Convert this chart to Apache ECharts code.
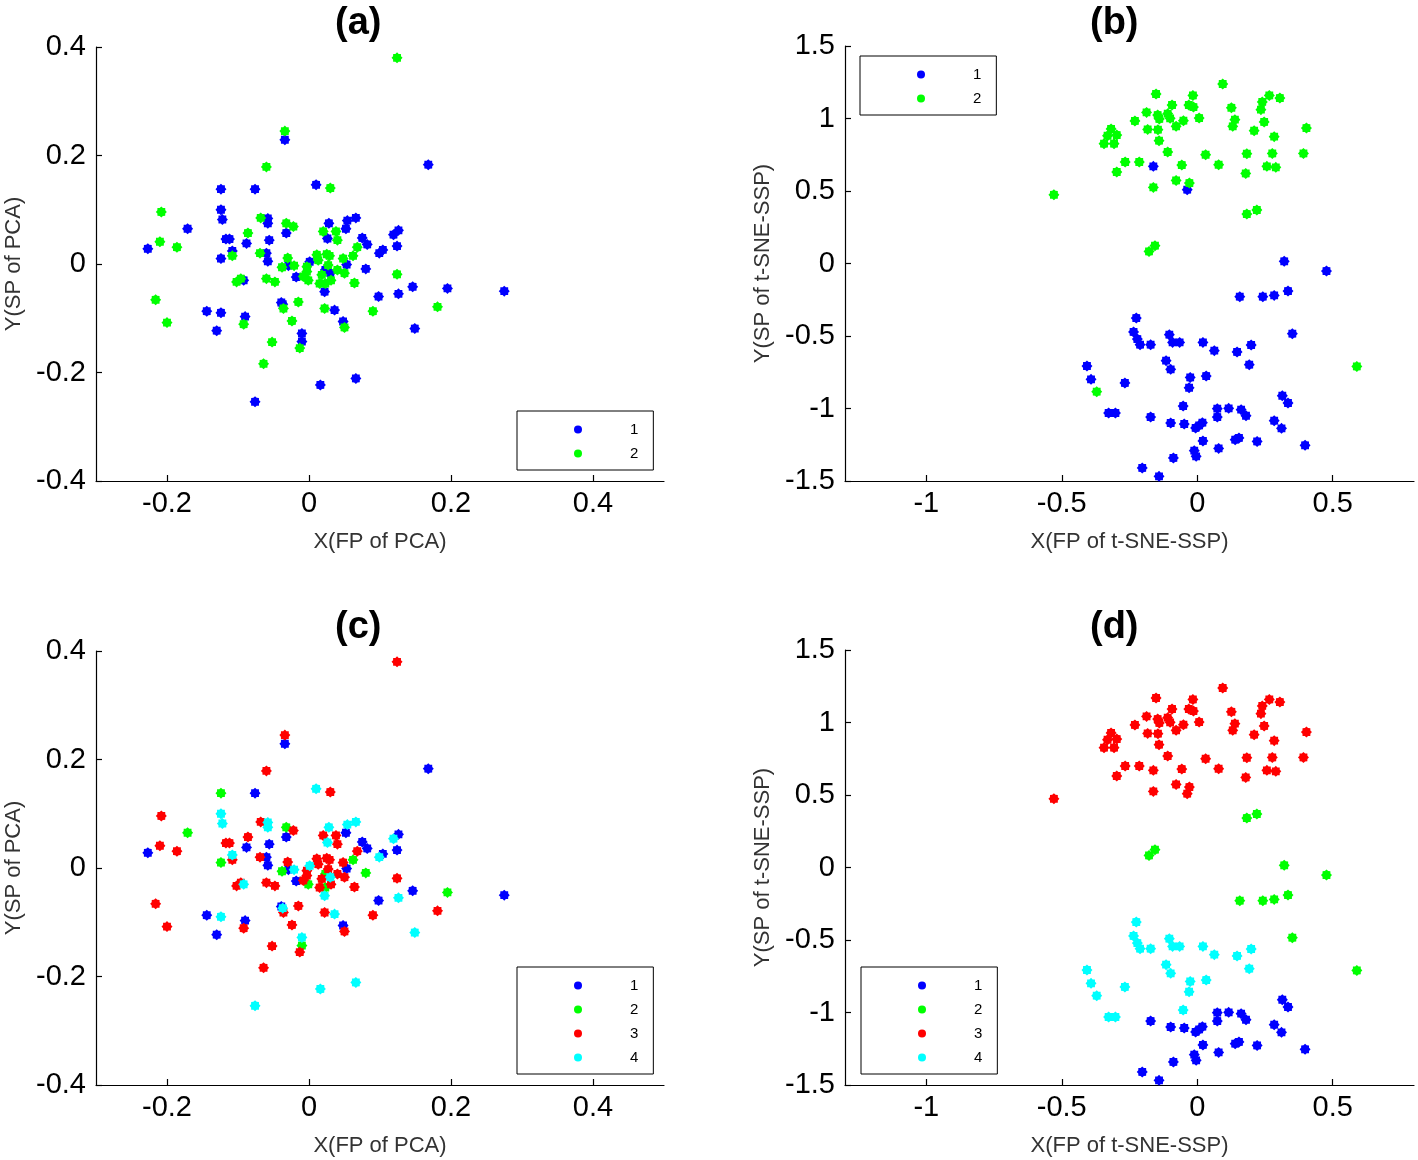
<!DOCTYPE html>
<html>
<head>
<meta charset="utf-8">
<script src="https://cdn.jsdelivr.net/npm/echarts@6/dist/echarts.min.js"></script>
<style>
  html, body { margin: 0; padding: 0; background: #fff; }
  #chart { width: 1418px; height: 1160px; }
</style>
</head>
<body>
<div id="chart"></div>
<script>
// PCA projection (panels a, c)
const pcaX = [
  -0.034, -0.034, -0.060, -0.124, -0.076, -0.208, -0.124, -0.122, -0.171, -0.068,
  -0.058, -0.058, -0.032, -0.022, -0.032, -0.086, -0.117, -0.112, -0.088, -0.056,
  -0.210, -0.227, -0.186, -0.108, -0.108, -0.124, -0.069, -0.060, -0.058, -0.030,
  -0.038, -0.029, -0.021, -0.018, -0.102, -0.096, -0.092, -0.060, -0.048, -0.216,
  -0.039, -0.037, -0.036, -0.015, -0.144, -0.124, -0.090, -0.092, -0.200, -0.130,
  -0.024, -0.010, -0.010, -0.013, -0.052, -0.064, -0.076, 0.168, 0.010, 0.030,
  0.028, 0.054, 0.066, 0.052, 0.020, 0.038, 0.026, 0.040, 0.075, 0.082,
  0.068, 0.119, 0.126, 0.124, 0.099, 0.104, 0.062, 0.048, 0.053, 0.080,
  0.124, 0.146, 0.126, 0.098, 0.090, 0.149, 0.064, 0.001, -0.003, 0.011,
  0.013, 0.025, 0.029, 0.027, 0.023, 0.030, 0.040, 0.050, -0.008, -0.001,
  -0.003, 0.015, 0.023, 0.031, 0.018, 0.022, 0.022, 0.036, 0.048, 0.050,
  0.124, 0.195, 0.275, 0.181, 0.066, 0.016
];
const pcaY = [
  0.245, 0.229, 0.179, 0.138, 0.138, 0.096, 0.100, 0.082, 0.065, 0.085,
  0.084, 0.075, 0.075, 0.069, 0.057, 0.057, 0.046, 0.046, 0.038, 0.044,
  0.041, 0.028, 0.031, 0.024, 0.015, 0.010, 0.020, 0.020, 0.005, 0.011,
  -0.006, -0.003, -0.003, -0.024, -0.033, -0.027, -0.030, -0.027, -0.033, -0.066,
  -0.071, -0.074, -0.082, -0.070, -0.087, -0.090, -0.097, -0.111, -0.108, -0.123,
  -0.105, -0.128, -0.143, -0.155, -0.144, -0.184, -0.254, 0.183, 0.146, 0.140,
  0.075, 0.080, 0.085, 0.065, 0.060, 0.060, 0.047, 0.044, 0.048, 0.036,
  0.031, 0.054, 0.062, 0.033, 0.020, 0.026, 0.015, 0.010, -0.001, -0.009,
  -0.019, -0.042, -0.055, -0.060, -0.087, -0.119, -0.035, 0.004, -0.005, 0.017,
  0.007, 0.018, 0.015, -0.002, -0.011, -0.017, -0.011, -0.017, -0.023, -0.030,
  -0.014, -0.036, -0.036, -0.030, -0.020, -0.051, -0.082, -0.085, -0.106, -0.117,
  0.380, -0.045, -0.050, -0.079, -0.211, -0.223
];
const pcaClassA = [
  2, 1, 2, 1, 1, 2, 1, 1, 1, 2,
  1, 1, 2, 2, 1, 2, 1, 1, 1, 1,
  2, 1, 2, 1, 2, 1, 2, 1, 1, 2,
  2, 1, 2, 1, 2, 2, 1, 2, 2, 2,
  1, 1, 2, 2, 1, 1, 1, 2, 2, 1,
  2, 1, 1, 2, 2, 2, 1, 1, 1, 2,
  1, 1, 1, 1, 2, 2, 1, 2, 1, 1,
  2, 1, 1, 1, 1, 1, 2, 2, 1, 1,
  2, 1, 1, 1, 2, 1, 2, 1, 2, 2,
  2, 2, 2, 2, 1, 1, 2, 2, 2, 2,
  2, 2, 2, 2, 2, 1, 2, 1, 1, 2,
  2, 1, 1, 2, 1, 1
];
const pcaClassC = [
  3, 1, 3, 2, 1, 3, 4, 4, 2, 3,
  4, 4, 2, 3, 1, 3, 3, 3, 1, 1,
  3, 1, 3, 4, 3, 2, 3, 1, 1, 3,
  2, 1, 4, 1, 3, 3, 4, 3, 3, 3,
  1, 4, 3, 3, 1, 4, 1, 3, 3, 1,
  3, 4, 2, 3, 3, 3, 4, 1, 4, 3,
  4, 4, 4, 1, 3, 3, 4, 3, 1, 1,
  3, 4, 1, 1, 4, 1, 2, 3, 1, 2,
  3, 1, 4, 1, 3, 4, 3, 4, 3, 3,
  3, 3, 3, 3, 2, 4, 3, 3, 3, 2,
  3, 3, 2, 3, 3, 4, 3, 4, 1, 3,
  3, 2, 1, 3, 4, 4
];

// t-SNE-SSP projection (panels b, d)
const tsneX = [
  0.094, -0.152, -0.016, 0.266, 0.305, -0.093, -0.031, -0.014, 0.240, 0.126,
  0.235, -0.187, -0.146, -0.109, -0.140, -0.100, -0.230, -0.051, 0.007, 0.139,
  0.131, 0.247, 0.403, 0.210, -0.078, -0.183, -0.145, -0.318, -0.297, -0.331,
  -0.344, -0.307, -0.141, 0.284, -0.109, 0.031, 0.183, 0.277, 0.392, -0.266,
  -0.214, -0.162, -0.057, 0.079, 0.257, 0.290, -0.297, 0.179, -0.078, -0.029,
  -0.037, -0.162, -0.529, 0.183, 0.220, -0.178, -0.156, 0.321, 0.477, 0.157,
  0.242, 0.284, 0.335, 0.351, 0.589, -0.371, -0.225, -0.235, -0.221, -0.211,
  -0.172, -0.103, -0.091, -0.065, 0.021, 0.063, 0.147, 0.199, 0.192, -0.115,
  -0.098, -0.407, -0.392, -0.267, -0.026, 0.033, -0.030, -0.327, -0.302, -0.052,
  -0.172, -0.098, -0.048, -0.006, 0.007, 0.019, 0.074, 0.074, 0.116, 0.162,
  0.180, 0.314, 0.335, 0.284, 0.311, 0.021, 0.079, 0.140, 0.154, 0.221,
  0.398, -0.011, -0.004, -0.088, -0.203, -0.141
];
const tsneY = [
  1.238, 1.169, 1.159, 1.159, 1.141, 1.093, 1.093, 1.079, 1.114, 1.074,
  1.061, 1.042, 1.024, 1.033, 0.997, 1.001, 0.983, 0.985, 1.003, 0.992,
  0.946, 0.976, 0.934, 0.916, 0.946, 0.925, 0.923, 0.928, 0.886, 0.881,
  0.826, 0.826, 0.847, 0.875, 0.769, 0.750, 0.757, 0.759, 0.759, 0.700,
  0.700, 0.670, 0.679, 0.681, 0.670, 0.663, 0.631, 0.621, 0.573, 0.555,
  0.509, 0.525, 0.474, 0.341, 0.369, 0.083, 0.123, 0.015, -0.052, -0.229,
  -0.229, -0.220, -0.190, -0.484, -0.710, -0.884, -0.376, -0.472, -0.521, -0.560,
  -0.560, -0.491, -0.544, -0.544, -0.544, -0.601, -0.610, -0.562, -0.698, -0.670,
  -0.730, -0.707, -0.799, -0.824, -0.786, -0.776, -0.857, -1.031, -1.031, -0.983,
  -1.059, -1.100, -1.107, -1.134, -1.117, -1.098, -1.001, -1.059, -0.999, -1.008,
  -1.050, -0.912, -0.962, -1.084, -1.137, -1.224, -1.275, -1.215, -1.203, -1.227,
  -1.254, -1.291, -1.330, -1.341, -1.410, -1.468
];
const tsneClassB = [
  2, 2, 2, 2, 2, 2, 2, 2, 2, 2,
  2, 2, 2, 2, 2, 2, 2, 2, 2, 2,
  2, 2, 2, 2, 2, 2, 2, 2, 2, 2,
  2, 2, 2, 2, 2, 2, 2, 2, 2, 2,
  2, 1, 2, 2, 2, 2, 2, 2, 2, 2,
  1, 2, 2, 2, 2, 2, 2, 1, 1, 1,
  1, 1, 1, 1, 2, 2, 1, 1, 1, 1,
  1, 1, 1, 1, 1, 1, 1, 1, 1, 1,
  1, 1, 1, 1, 1, 1, 1, 1, 1, 1,
  1, 1, 1, 1, 1, 1, 1, 1, 1, 1,
  1, 1, 1, 1, 1, 1, 1, 1, 1, 1,
  1, 1, 1, 1, 1, 1
];
const tsneClassD = [
  3, 3, 3, 3, 3, 3, 3, 3, 3, 3,
  3, 3, 3, 3, 3, 3, 3, 3, 3, 3,
  3, 3, 3, 3, 3, 3, 3, 3, 3, 3,
  3, 3, 3, 3, 3, 3, 3, 3, 3, 3,
  3, 3, 3, 3, 3, 3, 3, 3, 3, 3,
  3, 3, 3, 2, 2, 2, 2, 2, 2, 2,
  2, 2, 2, 2, 2, 4, 4, 4, 4, 4,
  4, 4, 4, 4, 4, 4, 4, 4, 4, 4,
  4, 4, 4, 4, 4, 4, 4, 4, 4, 4,
  1, 1, 1, 1, 1, 1, 1, 1, 1, 1,
  1, 1, 1, 1, 1, 1, 1, 1, 1, 1,
  1, 1, 1, 1, 1, 1
];

const pcaTicksX = [-0.2, 0, 0.2, 0.4];
const pcaTicksY = [-0.4, -0.2, 0, 0.2, 0.4];
const tsneTicksX = [-1, -0.5, 0, 0.5];
const tsneTicksY = [-1.5, -1, -0.5, 0, 0.5, 1, 1.5];
const panelTitles = ["(a)", "(b)", "(c)", "(d)"];

const classColors = ["#0000ff", "#00ff00", "#ff0000", "#00ffff"];
const starSymbol = "path://M100,50L86,64.9L85.4,85.4L64.9,86L50,100L35.1,86L14.6,85.4L14,64.9L0,50L14,35.1L14.6,14.6L35.1,14L50,0L64.9,14L85.4,14.6L86,35.1Z";
const font = "Liberation Sans";

function buildSeries(xs, ys, cls, classes, idx) {
  return classes.map((k) => ({
    type: "scatter",
    name: String(k),
    xAxisIndex: idx,
    yAxisIndex: idx,
    symbol: starSymbol,
    symbolSize: 11,
    itemStyle: { color: classColors[k - 1], opacity: 1 },
    emphasis: { disabled: true },
    data: xs.map((x, i) => [x, ys[i], cls[i]]).filter((d) => d[2] === k).map((d) => [d[0], d[1]]),
  }));
}

function makeAxis(idx, min, max, ticks, name, isX) {
  return {
    type: "value",
    gridIndex: idx,
    min: min,
    max: max,
    name: name,
    nameLocation: "middle",
    nameGap: isX ? 50 : 71,
    nameTextStyle: { fontSize: 22, color: "#333", fontFamily: font },
    splitLine: { show: false },
    axisLine: { show: true, onZero: false, lineStyle: { color: "#000", width: 1.2 } },
    axisTick: { show: true, inside: true, length: 6, customValues: ticks, lineStyle: { color: "#000", width: 1.2 } },
    axisLabel: { customValues: ticks, fontSize: 29, color: "#000", fontFamily: font, margin: isX ? 8 : 10 },
  };
}

function makeLegend(left, top, names) {
  return {
    left: left,
    top: top,
    orient: "vertical",
    data: names.map((n) => ({ name: n, icon: "circle" })),
    itemWidth: 94,
    itemHeight: 8,
    itemGap: 9,
    padding: [11, 15, 9, 57],
    borderColor: "#000",
    borderWidth: 1,
    selectedMode: false,
    itemStyle: { opacity: 1 },
    textStyle: { fontSize: 15, color: "#000", fontFamily: font },
  };
}

const chart = echarts.init(document.getElementById("chart"));
const grids = [
  { left: 96, top: 47, width: 568, height: 434 },
  { left: 845, top: 46, width: 569, height: 435 },
  { left: 96, top: 651, width: 568, height: 434 },
  { left: 845, top: 650, width: 569, height: 435 },
];
const titleLeft = [330, 1085, 330, 1085];
const titleTop = [0, 0, 604, 604];

chart.setOption({
  animation: false,
  backgroundColor: "#fff",
  title: panelTitles.map((t, i) => ({
    text: t,
    left: titleLeft[i],
    top: titleTop[i],
    textStyle: { fontSize: 38, fontWeight: "bold", color: "#000", fontFamily: font },
  })),
  grid: grids,
  xAxis: [
    makeAxis(0, -0.3, 0.5, pcaTicksX, "X(FP of PCA)", true),
    makeAxis(1, -1.3, 0.8, tsneTicksX, "X(FP of t-SNE-SSP)", true),
    makeAxis(2, -0.3, 0.5, pcaTicksX, "X(FP of PCA)", true),
    makeAxis(3, -1.3, 0.8, tsneTicksX, "X(FP of t-SNE-SSP)", true),
  ],
  yAxis: [
    makeAxis(0, -0.4, 0.4, pcaTicksY, "Y(SP of PCA)", false),
    makeAxis(1, -1.5, 1.5, tsneTicksY, "Y(SP of t-SNE-SSP)", false),
    makeAxis(2, -0.4, 0.4, pcaTicksY, "Y(SP of PCA)", false),
    makeAxis(3, -1.5, 1.5, tsneTicksY, "Y(SP of t-SNE-SSP)", false),
  ],
  legend: [
    makeLegend(517, 411, ["1", "2"]),
    makeLegend(860, 56, ["1", "2"]),
    makeLegend(517, 967, ["1", "2", "3", "4"]),
    makeLegend(861, 967, ["1", "2", "3", "4"]),
  ],
  series: [
    ...buildSeries(pcaX, pcaY, pcaClassA, [1, 2], 0),
    ...buildSeries(tsneX, tsneY, tsneClassB, [1, 2], 1),
    ...buildSeries(pcaX, pcaY, pcaClassC, [1, 2, 3, 4], 2),
    ...buildSeries(tsneX, tsneY, tsneClassD, [1, 2, 3, 4], 3),
  ],
});
window.addEventListener("resize", chart.resize);
</script>
</body>
</html>
